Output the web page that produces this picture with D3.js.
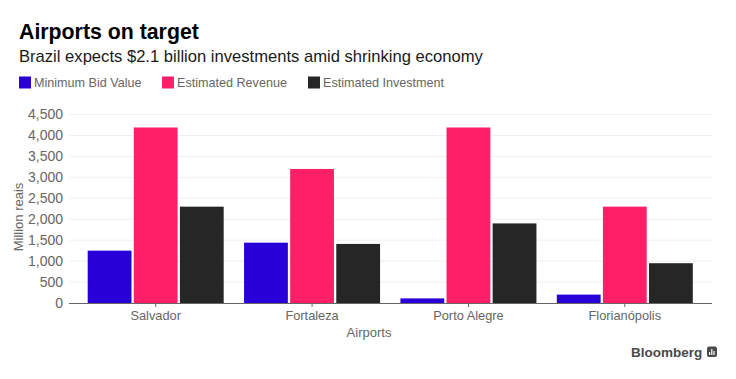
<!DOCTYPE html>
<html lang="en">
<head>
<meta charset="UTF-8">
<title>Airports on target</title>
<script src="https://d3js.org/d3.v7.min.js"></script>
<style>
  body { margin: 0; background: #fff; }
  svg { display: block; font-family: "Liberation Sans", sans-serif; }
</style>
</head>
<body>
<div id="chart"></div>
<script>
// Values, million reais
var airports = ["Salvador", "Fortaleza", "Porto Alegre", "Florianópolis"];
var seriesNames = ["Minimum Bid Value", "Estimated Revenue", "Estimated Investment"];
var minimumBid = [1250, 1440, 110, 200];
var estimatedRevenue = [4190, 3200, 4190, 2300];
var estimatedInvestment = [2300, 1410, 1900, 950];
var seriesColors = ["#2800d7", "#ff1f66", "#262626"];
var yTicks = [0, 500, 1000, 1500, 2000, 2500, 3000, 3500, 4000, 4500];

var allSeries = [minimumBid, estimatedRevenue, estimatedInvestment];

var width = 736, height = 379;
var svg = d3.select("#chart").append("svg")
    .attr("width", width)
    .attr("height", height);

var plotLeft = 69, plotRight = 712, plotTop = 114.5, plotBottom = 303;

// Scales
var x = d3.scaleBand().domain(airports).range([77.5, 703]);
var xInner = d3.scaleBand().domain(d3.range(3)).range([-68, 68]).paddingInner(0.05).paddingOuter(0);
var y = d3.scaleLinear().domain([0, 4500]).range([plotBottom, plotTop]);

// Titles
svg.append("text").attr("x", 19).attr("y", 39)
    .style("font-size", "21.3px").style("font-weight", "700").style("fill", "#000")
    .text("Airports on target");
svg.append("text").attr("x", 19).attr("y", 62)
    .style("font-size", "16.6px").style("fill", "#1a1a1a")
    .text("Brazil expects $2.1 billion investments amid shrinking economy");

// Legend
var legendX = [19, 162, 308];
seriesNames.forEach(function(name, i) {
    svg.append("rect")
        .attr("x", legendX[i]).attr("y", 76.5)
        .attr("width", 12).attr("height", 12)
        .style("fill", seriesColors[i]);
    svg.append("text")
        .attr("x", legendX[i] + 15).attr("y", 87)
        .style("font-size", "12.6px").style("fill", "#666")
        .text(name);
});

// Gridlines and y axis labels
var yAxis = svg.append("g")
    .attr("transform", "translate(" + plotLeft + ",0)")
    .call(d3.axisLeft(y).tickValues(yTicks).tickSize(0).tickPadding(6).tickFormat(d3.format(",")));
yAxis.select(".domain").remove();
yAxis.selectAll("text").style("font-size", "14px").style("fill", "#666")
    .style("font-family", '"Liberation Sans", sans-serif');

svg.append("g").selectAll("line")
    .data(yTicks.filter(function(d) { return d > 0; }))
    .enter().append("line")
    .attr("x1", plotLeft).attr("x2", plotRight)
    .attr("y1", function(d) { return y(d); })
    .attr("y2", function(d) { return y(d); })
    .style("stroke", "#f0f0f0");

// Bars
allSeries.forEach(function(values, s) {
    svg.append("g").selectAll("rect")
        .data(values)
        .enter().append("rect")
        .attr("x", function(d, i) { return x(airports[i]) + x.bandwidth() / 2 + xInner(s); })
        .attr("width", xInner.bandwidth())
        .attr("y", function(d) { return y(d); })
        .attr("height", function(d) { return y(0) - y(d); })
        .style("fill", seriesColors[s]);
});

// X axis
var xAxis = svg.append("g")
    .attr("transform", "translate(0," + plotBottom + ")")
    .call(d3.axisBottom(x).tickSize(4).tickPadding(4));
xAxis.select(".domain").remove();
xAxis.selectAll("line").style("stroke", "#666");
xAxis.selectAll("text").style("font-size", "12.8px").style("fill", "#666")
    .style("font-family", '"Liberation Sans", sans-serif');
svg.append("line")
    .attr("x1", plotLeft).attr("x2", plotRight)
    .attr("y1", plotBottom + 0.5).attr("y2", plotBottom + 0.5)
    .style("stroke", "#666");

// Axis titles
svg.append("text")
    .attr("x", 369).attr("y", 337)
    .attr("text-anchor", "middle")
    .style("font-size", "13px").style("fill", "#666")
    .text("Airports");
svg.append("text")
    .attr("transform", "translate(23,217) rotate(-90)")
    .attr("text-anchor", "middle")
    .style("font-size", "13px").style("fill", "#666")
    .text("Million reais");

// Bloomberg logo
svg.append("text")
    .attr("x", 631).attr("y", 357)
    .style("font-size", "13.5px").style("font-weight", "700").style("fill", "#4a4a4a")
    .text("Bloomberg");
svg.append("rect")
    .attr("x", 707).attr("y", 346.5)
    .attr("width", 10).attr("height", 10.5).attr("rx", 2)
    .style("fill", "#4a4a4a");
var logoBars = [[709, 352, 3], [711.2, 349, 6], [713.4, 351, 4]];
logoBars.forEach(function(b) {
    svg.append("rect").attr("x", b[0]).attr("y", b[1])
        .attr("width", 1.2).attr("height", b[2]).style("fill", "#fff");
});
</script>
</body>
</html>
